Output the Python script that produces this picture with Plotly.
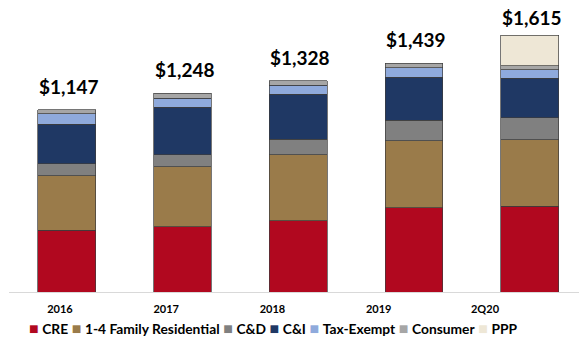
import plotly.graph_objects as go

# Loan portfolio composition ($ millions)
categories = ["2016", "2017", "2018", "2019", "2Q20"]
cre = [388, 409, 447, 528, 539]
family_res = [343, 379, 415, 424, 419]
c_and_d = [75, 76, 99, 129, 138]
c_and_i = [247, 296, 281, 268, 247]
tax_exempt = [67, 57, 57, 61, 55]
consumer = [27, 31, 29, 29, 25]
ppp = [None, None, None, None, 192]

series_names = ["CRE", "1-4 Family Residential", "C&D", "C&I", "Tax-Exempt", "Consumer", "PPP"]
series_values = [cre, family_res, c_and_d, c_and_i, tax_exempt, consumer, ppp]
series_colors = ["#B1081F", "#9A7B4A", "#808080", "#1F3864", "#8FAADC", "#A6A6A6", "#EEE7D6"]

totals = [sum(v[i] or 0 for v in series_values) for i in range(len(categories))]

W, H = 579, 338
ML, MR, MT, MB = 9, 0, 0, 46
PLOT_W = W - ML - MR
PLOT_H = H - MT - MB

fig = go.Figure()
for name, vals, color in zip(series_names, series_values, series_colors):
    fig.add_trace(go.Bar(
        x=categories, y=vals, name=name,
        marker=dict(color=color, line=dict(color="#3C3C3C", width=0.7)),
        showlegend=False, hoverinfo="skip",
    ))

# category labels live on a companion axis
fig.add_trace(go.Scatter(
    x=list(range(len(categories))), y=[0] * len(categories),
    xaxis="x2", mode="markers", marker=dict(opacity=0),
    showlegend=False, hoverinfo="skip",
))

# total labels above each stack (x given as category index)
for i, tot in enumerate(totals):
    fig.add_annotation(
        x=i, y=tot, text=f"<b>${tot:,}</b>", showarrow=False,
        xanchor="center", yanchor="bottom", xshift=2,
        yshift=10 if i < len(categories) - 1 else 4,
        font=dict(family="Lato", size=19, color="#000000"),
    )

# legend row
legend_html = "&nbsp;".join(
    f"<span style='color:{c};font-size:16px'>■</span>&nbsp;<b>{n.replace('&', '&amp;')}</b>"
    for n, c in zip(series_names, series_colors)
)
fig.add_annotation(
    xref="paper", yref="paper",
    x=(27 - ML) / PLOT_W, y=(PLOT_H - 327) / PLOT_H,
    xanchor="left", yanchor="middle", showarrow=False,
    text=legend_html,
    font=dict(family="Lato", size=13.8, color="#000000"),
)

fig.update_layout(
    width=W, height=H,
    margin=dict(l=ML, r=MR, t=MT, b=MB),
    barmode="stack", bargap=0.5,
    paper_bgcolor="white", plot_bgcolor="white",
    xaxis=dict(
        type="category", range=[-0.5, -0.5 + PLOT_W / 115.7],
        showticklabels=False, ticks="", showgrid=False,
        showline=True, linecolor="#D9D9D9", linewidth=1, zeroline=False,
    ),
    xaxis2=dict(
        overlaying="x", anchor="y", side="bottom",
        range=[-51 / 106.25, -51 / 106.25 + PLOT_W / 106.25],
        tickvals=list(range(len(categories))), ticktext=categories,
        tickfont=dict(family="Lato", size=11, color="#000000", weight="bold"),
        ticks="outside", ticklen=7, tickcolor="rgba(0,0,0,0)",
        showgrid=False, showline=False, zeroline=False,
    ),
    yaxis=dict(range=[0, PLOT_H * 6.285], visible=False, showgrid=False),
)

fig.write_html("out.html")
